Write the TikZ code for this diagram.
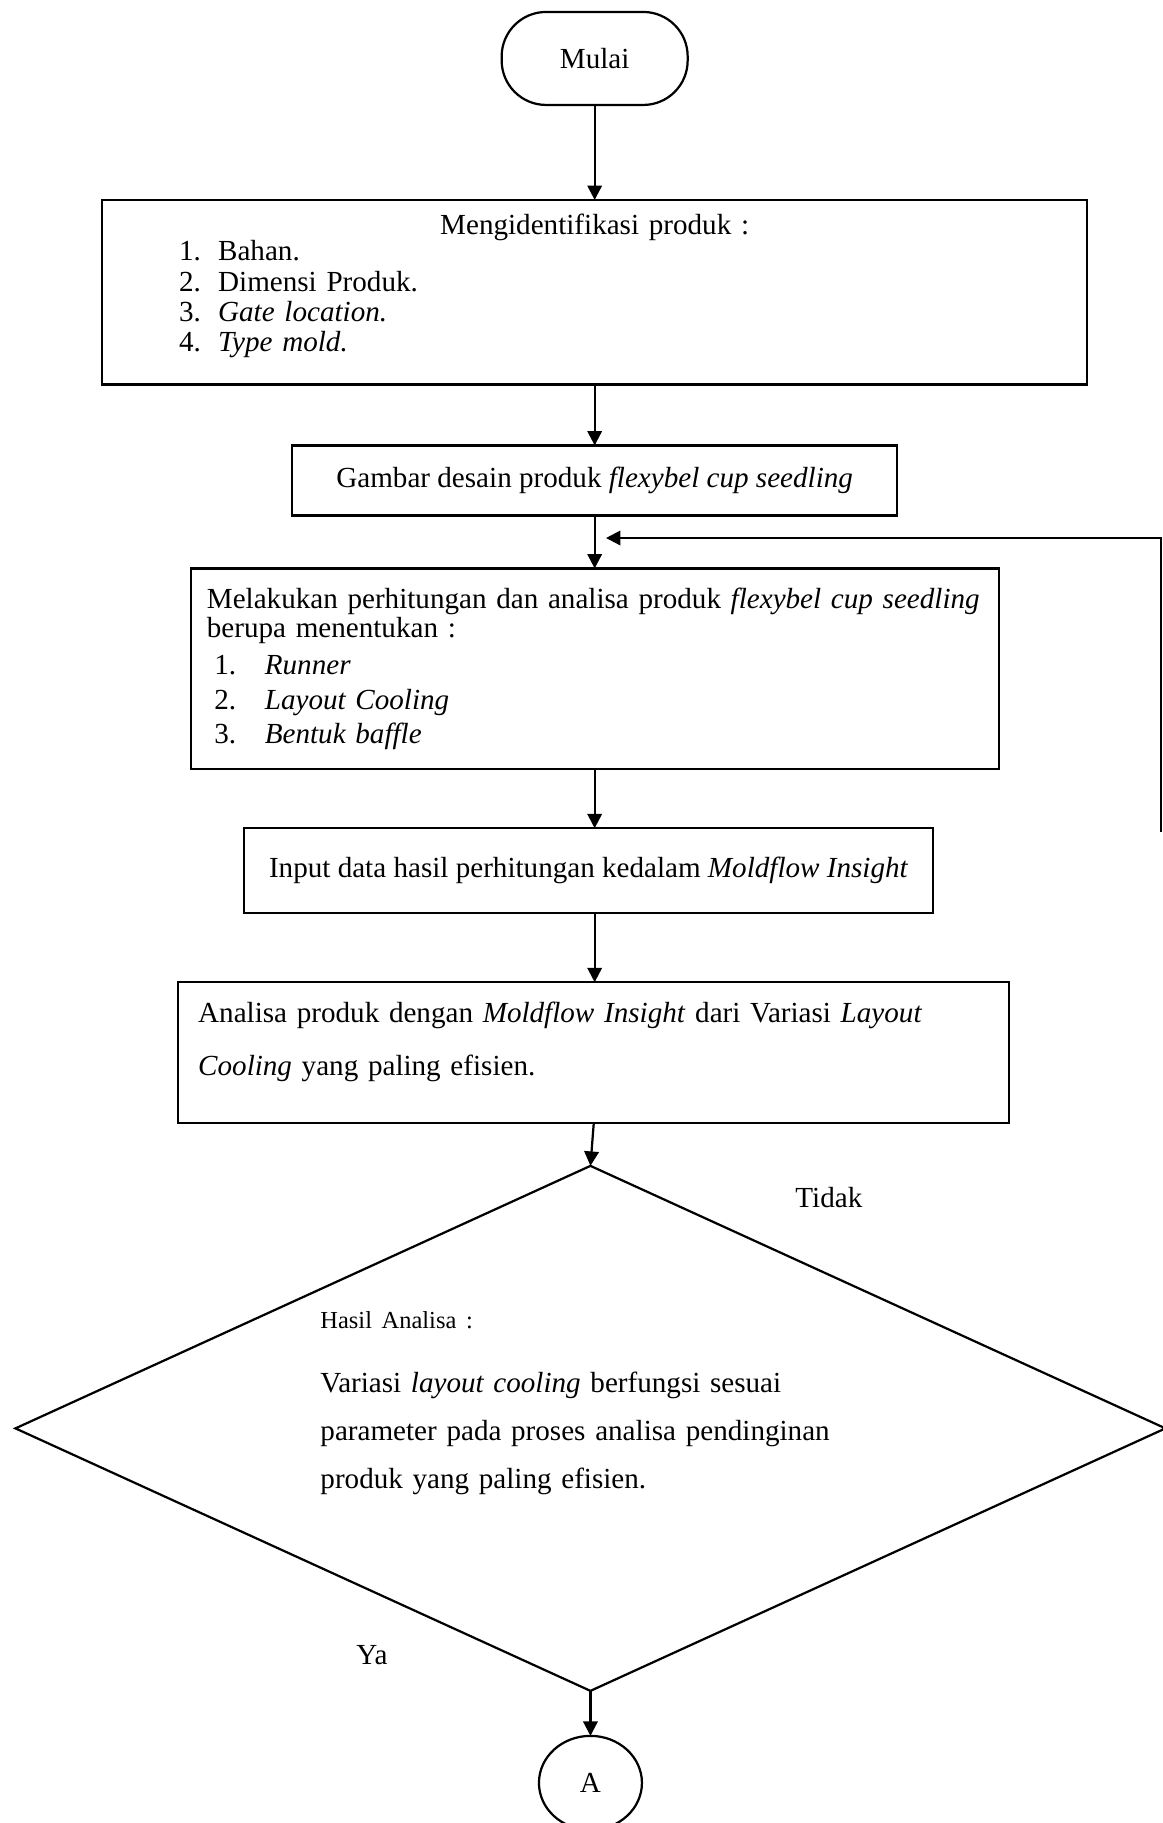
\documentclass[tikz,border=0pt]{standalone}
\usepackage{fontspec}
\setmainfont{Liberation Serif}
\usepackage{tikz}
\usetikzlibrary{shapes,arrows.meta,positioning}

\tikzset{
  flowbox/.style={draw, rectangle, line width=1pt, outer sep=0pt},
  flowline/.style={-{Triangle[width=6.5pt,length=6.5pt]}, line width=1pt}
}

\begin{document}
\begin{tikzpicture}[x=1pt, y=-1pt, font=\fontsize{13.1}{15}\selectfont]
        % page frame
        \useasboundingbox (0,0) rectangle (523.35,820.35);

        % Start
        \node[draw, line width=1pt, outer sep=0pt, rounded corners=20pt, minimum width=83.7pt, minimum height=41.85pt] (mulai) at (267.6,26.3) {Mulai};

        % Identify the product
        \node[flowbox, text width=425.25pt, inner xsep=9pt, inner ysep=6.45pt, minimum height=82.8pt, align=left, font=\fontsize{13.1}{13.6}\selectfont, below=42.75pt of mulai] (ident) {\centerline{Mengidentifikasi produk :}\\[-1.9pt]
            \hspace*{25.65pt}\makebox[17.55pt][l]{1.}Bahan.\\
            \hspace*{25.65pt}\makebox[17.55pt][l]{2.}Dimensi Produk.\\
            \hspace*{25.65pt}\makebox[17.55pt][l]{3.}\textit{Gate location.}\\
            \hspace*{25.65pt}\makebox[17.55pt][l]{4.}\textit{Type mold.}\rule[-8.4pt]{0pt}{0pt}};

        % Product drawing
        \node[flowbox, minimum width=272.25pt, minimum height=31.5pt, below=27.45pt of ident] (gambar) {Gambar desain produk \textit{flexybel cup seedling}};

        % Calculation
        \node[flowbox, text width=349pt, inner xsep=7.3pt, inner ysep=8.8pt, minimum height=89.55pt, align=left, font=\fontsize{13.1}{15.5}\selectfont, below=23.85pt of gambar] (hitung) {\mbox{Melakukan perhitungan dan analisa produk \textit{flexybel cup seedling}}\\[-2.45pt]
            berupa menentukan :\\[1.2pt]
            \hspace*{3.4pt}\makebox[22.7pt][l]{1.}\textit{Runner}\\
            \hspace*{3.4pt}\makebox[22.7pt][l]{2.}\textit{Layout Cooling}\\
            \hspace*{3.4pt}\makebox[22.7pt][l]{3.}\textit{Bentuk baffle}\rule[-2.25pt]{0pt}{0pt}};

        % Input data
        \node[flowbox, minimum width=310pt, minimum height=38.25pt, below=26.55pt of hitung, xshift=-2.7pt] (input) {Input data hasil perhitungan kedalam \textit{Moldflow Insight}};

        % Analysis
        \node[flowbox, text width=356pt, inner xsep=9pt, inner ysep=9.05pt, minimum height=63pt, align=left, font=\fontsize{13.1}{23.5}\selectfont, below=31.05pt of input, xshift=2.3pt] (analisa) {Analisa produk dengan \textit{Moldflow Insight} dari Variasi \textit{Layout}\\
            \textit{Cooling} yang paling efisien.\rule[-12.45pt]{0pt}{0pt}};

        % Decision
        \node[draw, diamond, line width=1pt, outer sep=0pt, aspect=2.19, minimum width=517.5pt, minimum height=236.25pt, inner sep=0pt, below=19.35pt of analisa, xshift=-1.5pt] (cek) {};
        \node[text width=243pt, align=left, inner sep=0pt, font=\fontsize{13.1}{21.6}\selectfont] (hasil) at ([yshift=11.2pt]cek.center) {{\fontsize{11}{13}\selectfont Hasil Analisa :}\\[7.2pt]
            \makebox[243pt][s]{Variasi \textit{layout cooling} berfungsi sesuai}\\
            \makebox[243pt][s]{parameter pada proses analisa pendinginan}\\
            produk yang paling efisien.};

        % Connector A
        \node[draw, ellipse, line width=1pt, outer sep=0pt, minimum width=46.35pt, minimum height=42.3pt, inner sep=0pt, below=20.25pt of cek] (konA) {A};

        % Branch labels
        \node (tidak) at (373,539) {Tidak};
        \node (ya) at (167.4,744.75) {Ya};

        % Feedback line
        \coordinate (fbbot) at (522.45,374.4);
        \coordinate (fbtip) at (272.7,242.1);

        % Arrows
        \draw[flowline] (mulai.south) -- (mulai.south |- ident.north);
        \draw[flowline] (ident.south) -- (ident.south |- gambar.north);
        \draw[flowline] (gambar.south) -- (gambar.south |- hitung.north);
        \draw[flowline] (hitung.south) -- (hitung.south |- input.north);
        \draw[flowline] (input.south -| hitung.south) -- (hitung.south |- analisa.north);
        \draw[flowline] (analisa.south) -- (cek.north);
        \draw[flowline] (cek.south) -- (konA.north);
        \draw[flowline] (fbbot) |- (fbtip);
    \end{tikzpicture}
\end{document}
